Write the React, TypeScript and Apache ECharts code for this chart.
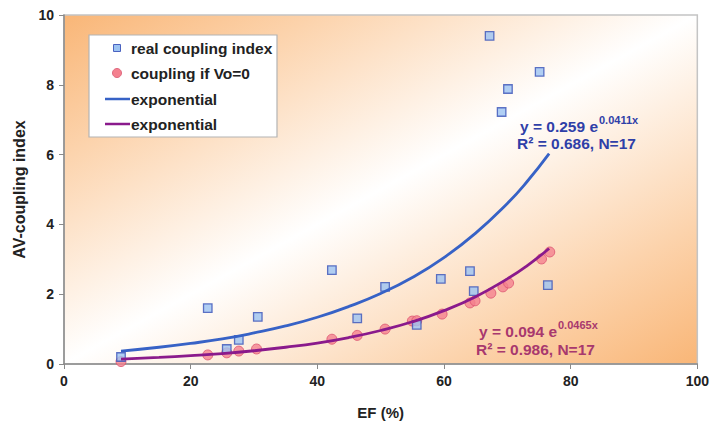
import React, { useEffect, useRef } from "react";
import * as echarts from "echarts";

// Scatter data: [EF %, AV-coupling index]
const realCoupling: [number, number][] = [
  [9.0, 0.2], [22.7, 1.6], [25.7, 0.43], [27.6, 0.69], [30.6, 1.35],
  [42.3, 2.69], [46.3, 1.31], [50.7, 2.21], [55.7, 1.12], [59.5, 2.44],
  [64.1, 2.66], [64.7, 2.09], [67.2, 9.4], [69.1, 7.22], [70.1, 7.88],
  [75.1, 8.37], [76.4, 2.26],
];
const couplingVo0: [number, number][] = [
  [9.0, 0.07], [22.7, 0.26], [25.7, 0.32], [27.6, 0.37], [30.4, 0.43],
  [42.3, 0.71], [46.3, 0.82], [50.7, 1.0], [55.0, 1.23], [55.7, 1.24],
  [59.7, 1.43], [64.1, 1.75], [64.9, 1.81], [67.4, 2.03], [69.3, 2.21],
  [70.2, 2.32], [75.4, 3.01], [76.7, 3.21],
];
// Trend curves
const realTrend: [number, number][] = [
  [9, 0.37], [15, 0.48], [20, 0.59], [25, 0.72], [30, 0.89], [35, 1.09],
  [40, 1.34], [45, 1.65], [50, 2.02], [55, 2.48], [60, 3.05], [65, 3.75],
  [70, 4.6], [73, 5.2], [76.6, 6.03],
];
const vo0Trend: [number, number][] = [
  [9, 0.14], [15, 0.19], [20, 0.24], [25, 0.3], [30, 0.38], [35, 0.48],
  [40, 0.6], [45, 0.76], [50, 0.96], [55, 1.21], [60, 1.53], [65, 1.93],
  [70, 2.44], [73, 2.8], [76.6, 3.31],
];
const legendLabels = ["real coupling index", "coupling if Vo=0", "exponential", "exponential"];
const xTitle = "EF (%)";
const yTitle = "AV-coupling index";
const eqBlue = ["y = 0.259 e", "0.0411x", "R² = 0.686, N=17"];
const eqPurple = ["y = 0.094 e", "0.0465x", "R² = 0.986, N=17"];

const FONT = "'Liberation Sans', Arial, sans-serif";
const BLUE_LINE = "#3762c6";
const PURPLE_LINE = "#8a1a8c";
const BLUE_TXT = "#2f3fa8";
const PURPLE_TXT = "#a8386e";

function txt(x: number, y: number, text: string, size: number, fill: string) {
  return {
    type: "text",
    x,
    y,
    z: 100,
    style: {
      text,
      fill,
      font: `bold ${size}px ${FONT}`,
      textAlign: "left",
      textVerticalAlign: "middle",
      align: "left",
      verticalAlign: "middle",
    },
  };
}

export default function App() {
  const ref = useRef<HTMLDivElement>(null);
  useEffect(() => {
    if (!ref.current) return;
    const chart = echarts.init(ref.current, undefined, { renderer: "svg" });
    const axisLabel = { fontFamily: FONT, fontWeight: "bold", fontSize: 14, color: "#222" };
    chart.setOption({
      animation: false,
      backgroundColor: "#ffffff",
      grid: {
        left: 64,
        right: 13,
        top: 15,
        bottom: 64,
        show: true,
        borderColor: "#c4c4c4",
        borderWidth: 1.5,
        backgroundColor: new echarts.graphic.LinearGradient(0, 0, 1, 1, [
          { offset: 0, color: "#f9b677" },
          { offset: 0.2, color: "#fcd3ac" },
          { offset: 0.5, color: "#ffffff" },
          { offset: 0.8, color: "#fcd3ac" },
          { offset: 1, color: "#f9b677" },
        ]),
      },
      xAxis: {
        type: "value",
        min: 0,
        max: 100,
        interval: 20,
        name: xTitle,
        nameLocation: "middle",
        nameGap: 41,
        nameTextStyle: { fontFamily: FONT, fontWeight: "bold", fontSize: 15, color: "#222" },
        axisLine: { lineStyle: { color: "#8a8a8a", width: 1.5 } },
        axisTick: { show: true, length: 5, lineStyle: { color: "#8a8a8a" } },
        axisLabel: { ...axisLabel, margin: 10 },
        splitLine: { show: false },
      },
      yAxis: {
        type: "value",
        min: 0,
        max: 10,
        interval: 2,
        name: yTitle,
        nameLocation: "middle",
        nameGap: 34,
        nameTextStyle: { fontFamily: FONT, fontWeight: "bold", fontSize: 16, color: "#222" },
        axisLine: { show: true, lineStyle: { color: "#8a8a8a", width: 1.5 } },
        axisTick: { show: true, length: 5, lineStyle: { color: "#8a8a8a" } },
        axisLabel: { ...axisLabel, margin: 10 },
        splitLine: { show: false },
      },
      series: [
        {
          name: legendLabels[1],
          type: "scatter",
          data: couplingVo0,
          symbol: "circle",
          symbolSize: 10,
          itemStyle: { color: "#f4818f", borderColor: "#dc5470", borderWidth: 1 },
        },
        {
          name: legendLabels[3],
          type: "line",
          data: vo0Trend,
          smooth: true,
          showSymbol: false,
          symbol: "none",
          lineStyle: { color: PURPLE_LINE, width: 2.8 },
        },
        {
          name: legendLabels[2],
          type: "line",
          data: realTrend,
          smooth: true,
          showSymbol: false,
          symbol: "none",
          lineStyle: { color: BLUE_LINE, width: 2.8 },
        },
        {
          name: legendLabels[0],
          type: "scatter",
          data: realCoupling,
          symbol: "rect",
          symbolSize: 8.5,
          itemStyle: { color: "#9cc3f2", borderColor: "#3a52b8", borderWidth: 1.3 },
        },
      ],
      graphic: [
        {
          type: "rect",
          z: 90,
          shape: { x: 89, y: 35, width: 188, height: 102 },
          style: { fill: "#ffffff", stroke: "#b4b4b4", lineWidth: 1.2 },
        },
        {
          type: "rect",
          z: 100,
          shape: { x: 113.5, y: 44.5, width: 7, height: 7 },
          style: { fill: "#9cc3f2", stroke: "#4a62c0", lineWidth: 1 },
        },
        txt(131, 48, legendLabels[0], 15.5, "#222"),
        {
          type: "circle",
          z: 100,
          shape: { cx: 117, cy: 73, r: 4.5 },
          style: { fill: "#f4818f", stroke: "#e06a80", lineWidth: 1 },
        },
        txt(131, 73, legendLabels[1], 15.5, "#222"),
        {
          type: "line",
          z: 100,
          shape: { x1: 105, y1: 99, x2: 130, y2: 99 },
          style: { stroke: BLUE_LINE, lineWidth: 2.5 },
        },
        txt(131, 99, legendLabels[2], 15.5, "#222"),
        {
          type: "line",
          z: 100,
          shape: { x1: 105, y1: 124, x2: 130, y2: 124 },
          style: { stroke: PURPLE_LINE, lineWidth: 2.5 },
        },
        txt(131, 124, legendLabels[3], 15.5, "#222"),
        txt(520, 126, eqBlue[0], 15.5, BLUE_TXT),
        txt(599, 120, eqBlue[1], 11, BLUE_TXT),
        txt(517, 143, eqBlue[2], 15.5, BLUE_TXT),
        txt(479, 331, eqPurple[0], 15.5, PURPLE_TXT),
        txt(558, 325, eqPurple[1], 11, PURPLE_TXT),
        txt(476, 349, eqPurple[2], 15.5, PURPLE_TXT),
      ],
    });
    return () => chart.dispose();
  }, []);
  return (
    <div
      ref={ref}
      style={{ position: "absolute", left: 0, top: 0, width: 712, height: 428 }}
    />
  );
}
